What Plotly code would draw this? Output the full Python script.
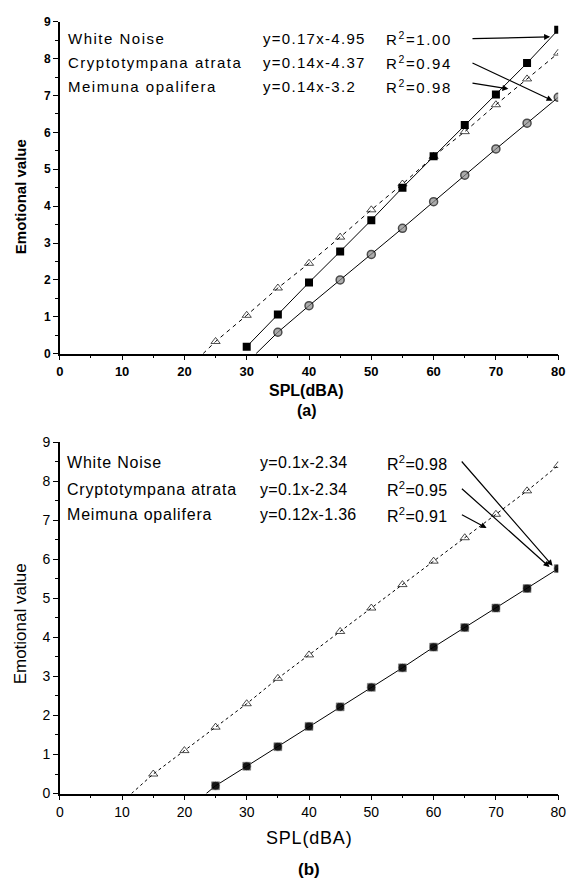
import plotly.graph_objects as go

# ---------- data: panel (a) ----------
a_wn_x = [30, 35, 40, 45, 50, 55, 60, 65, 70, 75, 80]
a_wn_y = [0.19, 1.06, 1.93, 2.77, 3.62, 4.5, 5.35, 6.2, 7.03, 7.88, 8.78]
a_ca_x = [23, 25, 30, 35, 40, 45, 50, 55, 60, 65, 70, 75, 80]
a_ca_y = [0.0, 0.33, 1.04, 1.78, 2.45, 3.16, 3.9, 4.6, 5.35, 6.02, 6.75, 7.45, 8.15]
a_mo_x = [31.5, 35, 40, 45, 50, 55, 60, 65, 70, 75, 80]
a_mo_y = [0.0, 0.58, 1.3, 2.0, 2.69, 3.4, 4.12, 4.84, 5.55, 6.25, 6.95]

# ---------- data: panel (b) ----------
b_tri_x = [11.5, 15, 20, 25, 30, 35, 40, 45, 50, 55, 60, 65, 70, 75, 80]
b_tri_y = [0.0, 0.5, 1.1, 1.7, 2.3, 2.95, 3.55, 4.15, 4.75, 5.35, 5.95, 6.55, 7.15, 7.75, 8.4]
b_sq_x = [23.5, 25, 30, 35, 40, 45, 50, 55, 60, 65, 70, 75, 80]
b_sq_y = [0.0, 0.2, 0.7, 1.2, 1.72, 2.22, 2.72, 3.22, 3.75, 4.25, 4.75, 5.25, 5.76]

labels_a = ["White Noise", "Cryptotympana atrata", "Meimuna opalifera"]
eqs_a = ["y=0.17x-4.95", "y=0.14x-4.37", "y=0.14x-3.2"]
r2_a = ["R<sup>2</sup>=1.00", "R<sup>2</sup>=0.94", "R<sup>2</sup>=0.98"]
labels_b = ["White Noise", "Cryptotympana atrata", "Meimuna opalifera"]
eqs_b = ["y=0.1x-2.34", "y=0.1x-2.34", "y=0.12x-1.36"]
r2_b = ["R<sup>2</sup>=0.98", "R<sup>2</sup>=0.95", "R<sup>2</sup>=0.91"]

x_ticks = [0, 10, 20, 30, 40, 50, 60, 70, 80]
y_ticks = [0, 1, 2, 3, 4, 5, 6, 7, 8, 9]

FONT = "Liberation Sans, Arial, sans-serif"
W, H = 576, 887


def msize(xs, first_zero, s):
    return [0 if (first_zero and i == 0) else s for i in range(len(xs))]


def spaced(t, px):
    return '<span style="letter-spacing:%spx">%s</span>' % (px, t)


fig = go.Figure()

# panel (a)
fig.add_trace(go.Scatter(x=a_ca_x, y=a_ca_y, mode="lines+markers", xaxis="x", yaxis="y",
                         line=dict(color="black", width=1, dash="4px,4px"),
                         marker=dict(symbol="triangle-up-open", size=msize(a_ca_x, True, 8),
                                     color="black", line=dict(width=1))))
fig.add_trace(go.Scatter(x=a_wn_x, y=a_wn_y, mode="lines+markers", xaxis="x", yaxis="y",
                         line=dict(color="black", width=1),
                         marker=dict(symbol="square", size=8, color="black")))
fig.add_trace(go.Scatter(x=a_mo_x, y=a_mo_y, mode="lines+markers", xaxis="x", yaxis="y",
                         line=dict(color="black", width=1),
                         marker=dict(symbol="circle", size=msize(a_mo_x, True, 8), color="#8a8a8a",
                                     line=dict(color="black", width=1.5))))

# panel (b)
fig.add_trace(go.Scatter(x=b_tri_x, y=b_tri_y, mode="lines+markers", xaxis="x2", yaxis="y2",
                         line=dict(color="black", width=1, dash="3px,3px"),
                         marker=dict(symbol="triangle-up-open", size=msize(b_tri_x, True, 8),
                                     color="black", line=dict(width=1))))
fig.add_trace(go.Scatter(x=b_sq_x, y=b_sq_y, mode="lines+markers", xaxis="x2", yaxis="y2",
                         line=dict(color="black", width=1),
                         marker=dict(symbol="circle", size=msize(b_sq_x, True, 9), color="black")))
fig.add_trace(go.Scatter(x=b_sq_x, y=b_sq_y, mode="markers", xaxis="x2", yaxis="y2",
                         marker=dict(symbol="square", size=msize(b_sq_x, True, 8), color="black",
                                     line=dict(color="#555", width=0.5))))

xdom = [57 / W, 566 / W]
ydom_a = [1 - 352 / H, 1 - 14 / H]
ydom_b = [1 - 800 / H, 1 - 442 / H]

axis_common = dict(showgrid=False, zeroline=False, showline=True, linecolor="black", linewidth=1.5,
                   ticks="outside", ticklen=5, tickwidth=1.2, tickcolor="black")

fig.update_layout(
    width=W, height=H, margin=dict(l=0, r=0, t=0, b=0),
    plot_bgcolor="white", paper_bgcolor="white", showlegend=False,
    xaxis=dict(domain=xdom, anchor="y", range=[0, 80], tickvals=x_ticks,
               tickfont=dict(family=FONT, size=13, color="black", weight="bold"),
               minor=dict(dtick=5, ticks="outside", ticklen=3, tickcolor="black"), **axis_common),
    yaxis=dict(domain=ydom_a, anchor="x", range=[0, 9], tickvals=y_ticks,
               tickfont=dict(family=FONT, size=12, color="black", weight="bold"),
               minor=dict(dtick=0.5, ticks="outside", ticklen=3, tickcolor="black"), **axis_common),
    xaxis2=dict(domain=xdom, anchor="y2", range=[0, 80], tickvals=x_ticks,
                tickfont=dict(family=FONT, size=14, color="black"),
                minor=dict(dtick=5, ticks="outside", ticklen=3, tickcolor="black"), **axis_common),
    yaxis2=dict(domain=ydom_b, anchor="x2", range=[0, 9], tickvals=y_ticks,
                tickfont=dict(family=FONT, size=14, color="black"),
                minor=dict(dtick=0.5, ticks="outside", ticklen=3, tickcolor="black"), **axis_common),
)

ann = []


def txt(x, y, text, size, **kw):
    d = dict(x=x / W, y=1 - y / H, xref="paper", yref="paper", text=text, showarrow=False,
             xanchor="left", yanchor="middle", font=dict(family=FONT, size=size, color="black"))
    d.update(kw)
    return d


# legend-like text, panel (a)
rows_a = [31, 56, 80]
for i in range(3):
    ann.append(txt(63, rows_a[i], spaced(labels_a[i], 1.5), 15))
    ann.append(txt(262, rows_a[i], spaced(eqs_a[i], 1.3), 15))
    ann.append(txt(388, rows_a[i], spaced(r2_a[i], 1.6), 15))

rows_b = [463, 490, 516]
for i in range(3):
    ann.append(txt(62, rows_b[i], spaced(labels_b[i], 0.8), 16))
    ann.append(txt(259, rows_b[i], spaced(eqs_b[i], 0.3), 16))
    ann.append(txt(389, rows_b[i], spaced(r2_b[i], 0.3), 16))

# arrows: (start x, start y) -> (end x, end y) in data units
arrows_a = [((66.0, 8.54), (78.7, 8.59)), ((66.0, 7.9), (79.1, 6.86)), ((66.0, 7.34), (72.0, 7.18))]
for (sx, sy), (ex, ey) in arrows_a:
    ann.append(dict(x=ex, y=ey, ax=sx, ay=sy, xref="x", yref="y", axref="x", ayref="y", text="",
                    showarrow=True, arrowhead=2, arrowsize=1, arrowwidth=1.2, arrowcolor="black"))
arrows_b = [((64.3, 8.54), (79.1, 5.83)), ((64.3, 7.84), (78.6, 5.8)), ((64.3, 7.16), (68.5, 6.8))]
for (sx, sy), (ex, ey) in arrows_b:
    ann.append(dict(x=ex, y=ey, ax=sx, ay=sy, xref="x2", yref="y2", axref="x2", ayref="y2", text="",
                    showarrow=True, arrowhead=2, arrowsize=1, arrowwidth=1.2, arrowcolor="black"))

# axis titles and panel labels
ann += [
    txt(17, 192, "<b>Emotional value</b>", 15, textangle=-90, xanchor="center"),
    txt(17, 627, "Emotional value", 17, textangle=-90, xanchor="center"),
    txt(309, 390, "<b>SPL(dBA)</b>", 16, xanchor="center"),
    txt(309, 410, "<b>(a)</b>", 16, xanchor="center"),
    txt(311, 845, spaced("SPL(dBA)", 0.8), 18, xanchor="center"),
    txt(311, 877, "<b>(b)</b>", 17, xanchor="center"),
]
fig.update_layout(annotations=ann)

fig.write_html("out.html")
